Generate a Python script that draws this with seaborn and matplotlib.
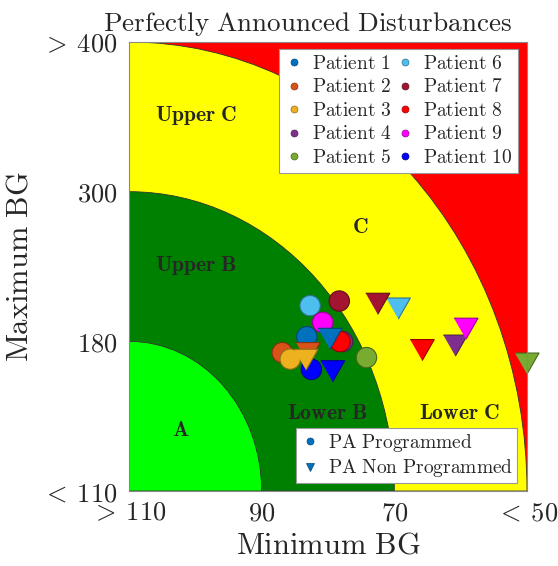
import numpy as np
import pandas as pd
import matplotlib
matplotlib.use("Agg")
import matplotlib.pyplot as plt
from matplotlib.patches import Wedge, Rectangle
from matplotlib.lines import Line2D
import seaborn as sns

sns.set_style("white")
plt.rcParams["mathtext.fontset"] = "cm"
plt.rcParams["font.family"] = ["DejaVu Serif"]

# ---------------- data ----------------
patients = ["Patient 1", "Patient 2", "Patient 3", "Patient 4", "Patient 5",
            "Patient 6", "Patient 7", "Patient 8", "Patient 9", "Patient 10"]
colors = ["#0072BD", "#D95319", "#EDB120", "#7E2F8E", "#77AC30",
          "#4DBEEE", "#A2142F", "#FF0000", "#FF00FF", "#0000FF"]

# PA Programmed (circles): minimum BG and maximum BG (mg/dL)
prog_min = [83.2, 86.9, 85.7, 77.8, 74.2, 82.7, 78.3, 78.2, 80.8, 82.5]
prog_max = [183.7, 174.7, 171.7, 179.9, 172.4, 208.6, 212.3, 179.9, 195.2, 166.9]

# PA Non Programmed (triangles)
nonprog_min = [79.7, 83.0, 83.3, 60.8, 50.0, 69.4, 72.5, 65.8, 59.2, 79.3]
nonprog_max = [182.0, 174.5, 171.4, 178.0, 169.6, 206.3, 210.1, 175.9, 190.1, 166.0]

x_ticks_bg = [110, 90, 70, 50]
y_ticks_bg = [110, 180, 300, 400]
x_tick_labels = [r"$>\:110$", r"$90$", r"$70$", r"$<\:50$"]
y_tick_labels = [r"$<\:110$", r"$180$", r"$300$", r"$>\:400$"]

# CVGA grid scale (piecewise linear)
grid = [0, 1, 2, 3]
def x_scale(v):
    return np.interp(-np.asarray(v, float), [-b for b in x_ticks_bg], grid)
def y_scale(v):
    return np.interp(np.asarray(v, float), y_ticks_bg, grid)

df_prog = pd.DataFrame({"x": x_scale(prog_min), "y": y_scale(prog_max), "patient": patients})
df_non = pd.DataFrame({"x": x_scale(nonprog_min), "y": y_scale(nonprog_max), "patient": patients})

palette = dict(zip(patients, colors))

def darker(c, f=0.6):
    r, g, b = matplotlib.colors.to_rgb(c)
    return (r * f, g * f, b * f)

# ---------------- figure ----------------
fig = plt.figure(figsize=(5.58, 5.66), dpi=100)
ax = fig.add_axes([129 / 558, 1 - 491 / 566, 398 / 558, 449 / 566])

ax.add_patch(Rectangle((0, 0), 3, 3, facecolor="#FF0000", edgecolor="none", zorder=0))
for r, col in [(3, "#FFFF00"), (2, "#008000"), (1, "#00FF00")]:
    ax.add_patch(Wedge((0, 0), r, 0, 90, facecolor=col, edgecolor="#333333",
                       linewidth=0.6, zorder=0.5))

tri = [(-1, 0.875), (1, 0.875), (0, -0.875)]

sns.scatterplot(data=df_prog, x="x", y="y", hue="patient", palette=palette,
                marker="o", s=215, edgecolor=[darker(c) for c in colors],
                linewidth=0.8, legend=False, ax=ax, zorder=3, clip_on=False)
sns.scatterplot(data=df_non, x="x", y="y", hue="patient", palette=palette,
                marker=tri, s=300, edgecolor=[darker(c) for c in colors],
                linewidth=0.8, legend=False, ax=ax, zorder=4, clip_on=False)

ax.set_xlim(0, 3)
ax.set_ylim(0, 3)
ax.set_xticks(grid)
ax.set_xticklabels(x_tick_labels)
ax.set_yticks(grid)
ax.set_yticklabels(y_tick_labels)
ax.tick_params(axis="both", length=0, labelsize=19)
ax.tick_params(axis="x", pad=7)
ax.tick_params(axis="y", pad=8)
for sp in ax.spines.values():
    sp.set_color("#888888")
    sp.set_linewidth(0.8)
    sp.set_zorder(5)

ax.set_xlabel(r"$\mathrm{Minimum\ BG}$", fontsize=22, labelpad=3)
ax.set_ylabel(r"$\mathrm{Maximum\ BG}$", fontsize=22, labelpad=6)
ax.set_title(r"$\mathrm{Perfectly\ Announced\ Disturbances}$", fontsize=19.5,
             pad=8, x=0.449)

# region labels
regions = [("Upper C", 0.505, 2.512), ("Upper B", 0.505, 1.51), ("C", 1.741, 1.764),
           ("A", 0.392, 0.408), ("Lower B", 1.492, 0.521), ("Lower C", 2.495, 0.521)]
for name, rx, ry in regions:
    ax.text(rx, ry, r"$\mathbf{" + name.replace(" ", r"\ ") + "}$", fontsize=15.5,
            ha="center", va="center", zorder=2)

# legends
h1 = [Line2D([], [], ls="", marker="o", markersize=5, color=c,
             markeredgecolor=darker(c), markeredgewidth=0.5) for c in colors]
l1 = [r"$\mathrm{" + p.replace(" ", r"\ ") + "}$" for p in patients]
leg1 = ax.legend(h1, l1, ncol=2, loc="upper right", bbox_to_anchor=(0.977, 0.984),
                 borderaxespad=0, fontsize=14, frameon=True, fancybox=False,
                 framealpha=1, edgecolor="#999999", handlelength=1.0,
                 handletextpad=0.4, columnspacing=0.2, labelspacing=0.28,
                 borderpad=0.3)
leg1.get_frame().set_linewidth(0.8)
leg1.set_zorder(10)
ax.add_artist(leg1)

h2 = [Line2D([], [], ls="", marker="o", markersize=5, color="#0072BD",
             markeredgecolor=darker("#0072BD"), markeredgewidth=0.5),
      Line2D([], [], ls="", marker="v", markersize=6, color="#0072BD",
             markeredgecolor=darker("#0072BD"), markeredgewidth=0.5)]
l2 = [r"$\mathrm{PA\ Programmed}$", r"$\mathrm{PA\ Non\ Programmed}$"]
leg2 = ax.legend(h2, l2, loc="lower right", bbox_to_anchor=(0.974, 0.017),
                 borderaxespad=0, fontsize=14, frameon=True, fancybox=False,
                 framealpha=1, edgecolor="#999999", handlelength=1.0,
                 handletextpad=0.4, labelspacing=0.18, borderpad=0.2)
leg2.get_frame().set_linewidth(0.8)
leg2.set_zorder(10)

fig.savefig("out.png", dpi=100)
